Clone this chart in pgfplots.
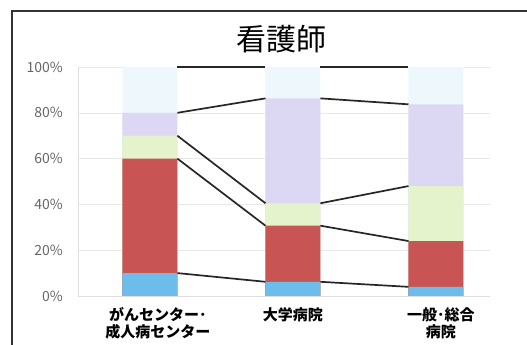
\documentclass[border=0pt]{standalone}
\usepackage{fontspec}
\setmainfont{Noto Sans CJK JP}
\usepackage{pgfplots}
\pgfplotsset{compat=1.18}
\usepackage{pgfplotstable}

\definecolor{segtop}{HTML}{EEF8FC}
\definecolor{seglav}{HTML}{DCD8F3}
\definecolor{seggreen}{HTML}{E4F3CB}
\definecolor{segred}{HTML}{C85553}
\definecolor{segblue}{HTML}{6CBDEA}
\definecolor{ticktext}{HTML}{666666}

% cumulative share (top edge of each segment), per hospital type
\pgfplotstableread{
x blue red green lav top
0 10  60   70   80   100
1 6.2 30.7 40.5 86.3 100
2 4   24   48   83.7 100
}\tops

% series lines joining segment tops, from bar edge to bar edge
\pgfplotstableread{
x     blue red  green lav  top
0.192 10   60   70    80   100
0.808 6.2  30.7 40.5  86.3 100
nan   nan  nan  nan   nan  nan
1.192 6.2  30.7 40.5  86.3 100
1.808 4    24   48    83.7 100
}\links

\begin{document}
\begin{tikzpicture}[x=1pt,y=1pt]
\path[use as bounding box] (0,0) rectangle (527,345);
\draw[line width=1.4pt,black!80] (12,-5) -- (12,334) -- (535,334);
\node at (281,306) {\fontsize{30}{30}\selectfont 看護師};
\begin{axis}[
  at={(78pt,49pt)}, anchor=south west,
  scale only axis, width=412pt, height=229pt,
  xmin=-0.503, xmax=2.378, ymin=0, ymax=100,
  clip=false,
  axis lines*=left,
  axis line style={gray!25},
  major tick length=0pt,
  ymajorgrids, grid style={gray!18, line width=0.5pt},
  ytick={0,20,40,60,80,100},
  yticklabels={0\%,20\%,40\%,60\%,80\%,100\%},
  yticklabel style={anchor=east, inner sep=0pt, xshift=-15pt, text=ticktext, font=\fontsize{14}{14}\selectfont},
  xtick={0,1,2},
  xticklabels={{\hspace*{16pt}がんセンター･\\\hspace*{16pt}成人病センター},{大学病院},{\hspace*{10pt}一般･総合\\\hspace*{10pt}病院}},
  xticklabel style={anchor=north, inner sep=0pt, yshift=-11pt, align=center, font=\fontsize{15}{17}\selectfont\bfseries},
  unbounded coords=jump,
]
\addplot[ybar, bar width=55pt, bar shift=0pt, draw=none, fill=segtop] table[x=x,y=top] {\tops};
\addplot[ybar, bar width=55pt, bar shift=0pt, draw=none, fill=seglav] table[x=x,y=lav] {\tops};
\addplot[ybar, bar width=55pt, bar shift=0pt, draw=none, fill=seggreen] table[x=x,y=green] {\tops};
\addplot[ybar, bar width=55pt, bar shift=0pt, draw=none, fill=segred] table[x=x,y=red] {\tops};
\addplot[ybar, bar width=55pt, bar shift=0pt, draw=none, fill=segblue] table[x=x,y=blue] {\tops};

\addplot[black!85, line width=1.7pt, mark=none] table[x=x,y=blue] {\links};
\addplot[black!85, line width=1.7pt, mark=none] table[x=x,y=red] {\links};
\addplot[black!85, line width=1.7pt, mark=none] table[x=x,y=green] {\links};
\addplot[black!85, line width=1.7pt, mark=none] table[x=x,y=lav] {\links};
\addplot[black!85, line width=1.7pt, mark=none] table[x=x,y=top] {\links};
\end{axis}
\end{tikzpicture}
\end{document}
